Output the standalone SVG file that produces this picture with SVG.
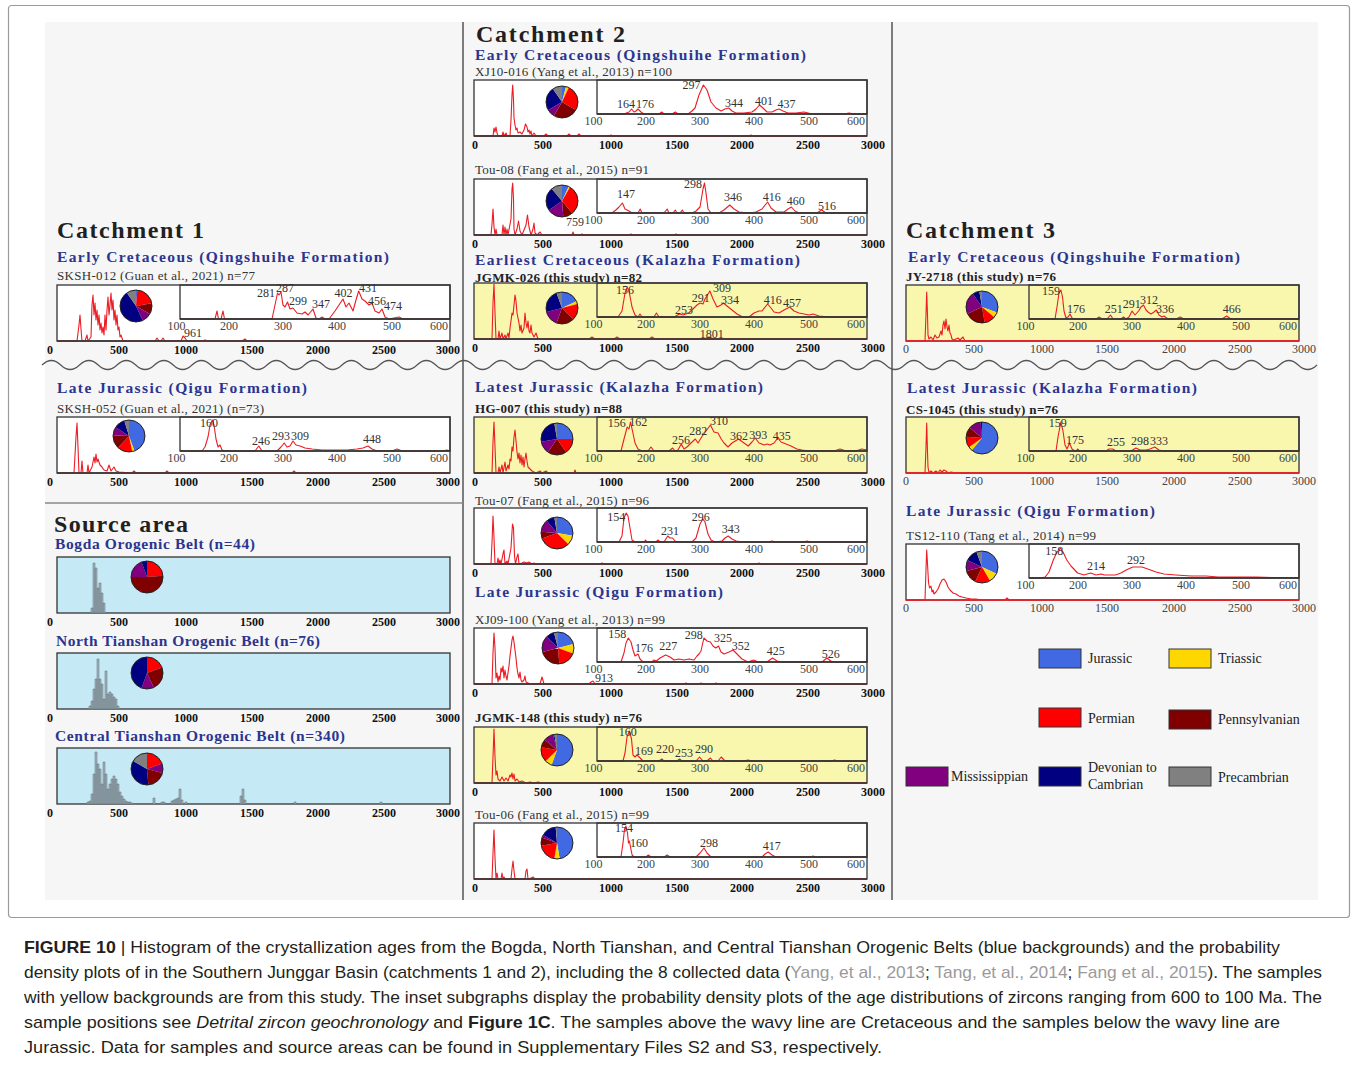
<svg xmlns="http://www.w3.org/2000/svg" width="1356" height="1066" viewBox="0 0 1356 1066">
<style>
.bg{fill:#f6f6f6}
.frame{fill:none;stroke:#9a9a9a;stroke-width:1.2}
.div{stroke:#555;stroke-width:1.5;fill:none}
.box{fill:#fff;stroke:#333;stroke-width:1.3}
.ybox{fill:#f9f6ae;stroke:#333;stroke-width:1.3}
.bbox{fill:#c5e9f5;stroke:#333;stroke-width:1.3}
.ins{fill:none;stroke:#333;stroke-width:1.3}
.axl{fill:none;stroke:#333;stroke-width:1.3}
.redax{fill:none;stroke:#ec1c24;stroke-width:1.4}
.pdp{fill:none;stroke:#ec1c24;stroke-width:1.1;stroke-linejoin:round}
.hist{fill:#a3b3ba;stroke:#5f6e74;stroke-width:0.5}
text{font-family:"Liberation Serif","Times New Roman",serif}
.axb{font-size:12px;font-weight:bold;fill:#111;text-anchor:middle}
.axr{font-size:12px;fill:#444;text-anchor:middle}
.pk{font-size:12px;fill:#333;text-anchor:middle}
.ttl{font-size:24px;font-weight:bold;fill:#231f20}
.sub{font-size:15.5px;font-weight:bold;fill:#2b3590}
.smp{font-size:13px;fill:#333}
.smpb{font-size:13px;font-weight:bold;fill:#222}
.leg{font-size:14px;fill:#222}
.lbox{stroke:#333;stroke-width:1}
.sl{fill:none;stroke-width:16}
.po{fill:none;stroke:#222;stroke-width:1}
.J{stroke:#4169e1}.T{stroke:#ffd700}.P{stroke:#ff0000}.Pe{stroke:#800000}.M{stroke:#800080}.D{stroke:#000080}.Pc{stroke:#808080}
.cap{font-family:"Liberation Sans",Arial,sans-serif;font-size:17px;fill:#231f20}
.cit{fill:#9a9a9a}
</style>
<defs>
<g id="axm" class="axb"><text x="-7" y="69">0</text><text x="62" y="69">500</text><text x="129" y="69">1000</text><text x="195" y="69">1500</text><text x="261" y="69">2000</text><text x="327" y="69">2500</text><text x="391" y="69">3000</text></g>
<g id="axm2" class="axb"><text x="1" y="69">0</text><text x="69" y="69">500</text><text x="137" y="69">1000</text><text x="203" y="69">1500</text><text x="268" y="69">2000</text><text x="334" y="69">2500</text><text x="399" y="69">3000</text></g>
<g id="axr" class="axr"><text x="0" y="68">0</text><text x="68" y="68">500</text><text x="136" y="68">1000</text><text x="201" y="68">1500</text><text x="268" y="68">2000</text><text x="334" y="68">2500</text><text x="398" y="68">3000</text></g>
<g id="axi" class="axr"><text x="119.5" y="45">100</text><text x="172" y="45">200</text><text x="226" y="45">300</text><text x="280" y="45">400</text><text x="335" y="45">500</text><text x="382" y="45">600</text></g>
</defs>

<rect class="frame" x="8.5" y="5.5" width="1341" height="912" rx="3"/>
<rect class="bg" x="45" y="22" width="1273" height="878"/>

<g id="separators">
<path class="div" d="M463,22V900M892,22V900"/>
<path class="div" style="stroke:#888" d="M45,503H463"/>
<path class="div" style="stroke-width:1.2" d="M42,365q9.375,-9 18.75,0 t18.75,0 t18.75,0 t18.75,0 t18.75,0 t18.75,0 t18.75,0 t18.75,0 t18.75,0 t18.75,0 t18.75,0 t18.75,0 t18.75,0 t18.75,0 t18.75,0 t18.75,0 t18.75,0 t18.75,0 t18.75,0 t18.75,0 t18.75,0 t18.75,0 t18.75,0 t18.75,0 t18.75,0 t18.75,0 t18.75,0 t18.75,0 t18.75,0 t18.75,0 t18.75,0 t18.75,0 t18.75,0 t18.75,0 t18.75,0 t18.75,0 t18.75,0 t18.75,0 t18.75,0 t18.75,0 t18.75,0 t18.75,0 t18.75,0 t18.75,0 t18.75,0 t18.75,0 t18.75,0 t18.75,0 t18.75,0 t18.75,0 t18.75,0 t18.75,0 t18.75,0 t18.75,0 t18.75,0 t18.75,0 t18.75,0 t18.75,0 t18.75,0 t18.75,0 t18.75,0 t18.75,0 t18.75,0 t18.75,0 t18.75,0 t18.75,0 t18.75,0 t18.75,0"/>
</g>

<g id="headings">
<text class="ttl" x="57" y="238" textLength="147">Catchment 1</text>
<text class="sub" x="57" y="262" textLength="332">Early Cretaceous (Qingshuihe Formation)</text>
<text class="smp" x="57" y="280" textLength="198">SKSH-012 (Guan et al., 2021) n=77</text>
<text class="sub" x="57" y="393" textLength="250">Late Jurassic (Qigu Formation)</text>
<text class="smp" x="57" y="413" textLength="207">SKSH-052 (Guan et al., 2021) (n=73)</text>
<text class="ttl" x="54" y="532" textLength="134">Source area</text>
<text class="sub" x="55" y="549" textLength="200">Bogda Orogenic Belt (n=44)</text>
<text class="sub" x="56" y="646" textLength="264">North Tianshan Orogenic Belt (n=76)</text>
<text class="sub" x="55" y="741" textLength="290">Central Tianshan Orogenic Belt (n=340)</text>

<text class="ttl" x="476" y="42" textLength="149">Catchment 2</text>
<text class="sub" x="475" y="60" textLength="331">Early Cretaceous (Qingshuihe Formation)</text>
<text class="smp" x="475" y="76" textLength="197">XJ10-016 (Yang et al., 2013) n=100</text>
<text class="smp" x="475" y="174" textLength="174">Tou-08 (Fang et al., 2015) n=91</text>
<text class="sub" x="475" y="265" textLength="325">Earliest Cretaceous (Kalazha Formation)</text>
<text class="smpb" x="475" y="282" textLength="167">JGMK-026 (this study) n=82</text>
<text class="sub" x="475" y="392" textLength="288">Latest Jurassic (Kalazha Formation)</text>
<text class="smpb" x="475" y="413" textLength="147">HG-007 (this study) n=88</text>
<text class="smp" x="475" y="505" textLength="174">Tou-07 (Fang et al., 2015) n=96</text>
<text class="sub" x="475" y="597" textLength="248">Late Jurassic (Qigu Formation)</text>
<text class="smp" x="475" y="624" textLength="190">XJ09-100 (Yang et al., 2013) n=99</text>
<text class="smpb" x="475" y="722" textLength="167">JGMK-148 (this study) n=76</text>
<text class="smp" x="475" y="819" textLength="174">Tou-06 (Fang et al., 2015) n=99</text>

<text class="ttl" x="906" y="238" textLength="149">Catchment 3</text>
<text class="sub" x="908" y="262" textLength="332">Early Cretaceous (Qingshuihe Formation)</text>
<text class="smpb" x="906" y="281" textLength="150">JY-2718 (this study) n=76</text>
<text class="sub" x="907" y="393" textLength="290">Latest Jurassic (Kalazha Formation)</text>
<text class="smpb" x="906" y="414" textLength="152">CS-1045 (this study) n=76</text>
<text class="sub" x="906" y="516" textLength="249">Late Jurassic (Qigu Formation)</text>
<text class="smp" x="906" y="540" textLength="190">TS12-110 (Tang et al., 2014) n=99</text>
</g>

<!-- Catchment 1 -->
<g id="c1-sksh012" transform="translate(57,285)">
<rect class="box" width="393" height="56"/>
<path class="pdp" d="M0,56 L20,56 L22,40 L23,30 L24,44 L25,56 L28,56 L30,50 L31,56 L34,52 L35,20 L36,10 L37,30 L38,18 L39,35 L40,25 L41,40 L42,30 L43,45 L44,38 L45,48 L46,42 L47,50 L48,30 L49,45 L50,25 L51,12 L52,30 L53,20 L54,8 L55,25 L56,15 L57,35 L58,25 L59,40 L60,30 L61,45 L62,42 L63,52 L64,50 L66,56 L98,56 L100,53 L102,56 L104,56 L106,53 L108,56 L124,56 L126,51 L128,53 L130,56 L145,56 L148,55 L152,56 L185,56 L188,54 L190,56 L393,56"/>
<path class="pdp" d="M123,34 L158,34 L160,26 L161.5,34 L164,34 L166,26 L167.5,34 L215,34 L218,20 L220.5,8 L222,10 L224,7 L226,20 L228,22 L230.5,17 L233,24 L236,23 L240,28 L245,29 L248,27 L251,30 L256,24 L259,33 L262,34 L265,32 L268,34 L272,34 L275,30 L278,26 L282,20 L286,14 L289,22 L292,18 L296,26 L299,15 L301.7,6 L305,14 L308,16 L312,20 L315,18 L318,26 L322,28 L325,24 L328,32 L332,34 L337,33 L342,32 L346,34 L393,34"/>
<rect class="ins" x="123" width="270" height="34"/>
<path class="axl" d="M0,56H393M123,34H393"/>
<use href="#axm"/><use href="#axi"/>
<g class="pk"><text x="209" y="12">281</text><text x="228" y="7">287</text><text x="241" y="20">299</text><text x="264" y="23">347</text><text x="286.5" y="12">402</text><text x="311" y="7">431</text><text x="320" y="20">456</text><text x="336" y="25">474</text><text x="136" y="52">961</text></g>
<g transform="translate(79,21) rotate(-90)">
<circle class="sl J" r="8" pathLength="360" stroke-dasharray="5 360"/>
<circle class="sl P" r="8" pathLength="360" stroke-dasharray="75 360" stroke-dashoffset="-5"/>
<circle class="sl Pe" r="8" pathLength="360" stroke-dasharray="40 360" stroke-dashoffset="-80"/>
<circle class="sl M" r="8" pathLength="360" stroke-dasharray="35 360" stroke-dashoffset="-120"/>
<circle class="sl D" r="8" pathLength="360" stroke-dasharray="170 360" stroke-dashoffset="-155"/>
<circle class="sl Pc" r="8" pathLength="360" stroke-dasharray="35 360" stroke-dashoffset="-325"/>
<circle class="po" r="16"/></g>
</g>

<g id="c1-sksh052" transform="translate(57,417)">
<rect class="box" width="393" height="56"/>
<path class="pdp" d="M0,56 L17,56 L19,20 L20,6 L21,30 L22,56 L24,56 L25,44 L26,56 L30,56 L31,48 L32,56 L35,50 L37,40 L38,46 L39,37 L40,45 L41,42 L43,48 L45,50 L47,53 L50,54 L52,48 L54,54 L57,50 L59,54 L62,55 L75,56 L77,54 L79,56 L108,56 L110,54 L112,56 L235,56 L237,54 L239,56 L393,56"/>
<path class="pdp" d="M123,34 L145,34 L148,30 L151,20 L153,8 L155.4,3 L157,8 L159,22 L161,30 L163,28 L165,33 L168,34 L198,34 L201.8,29 L205,34 L220,34 L224,30 L227.2,26 L230,30 L233,29 L236,24 L239,28 L243,29 L248,31 L255,32 L265,33 L275,33 L290,33 L300,32 L306,31 L311,29 L315,32 L320,34 L335,34 L340,32 L345,34 L385,34 L390,33 L393,34"/>
<rect class="ins" x="123" width="270" height="34"/>
<path class="axl" d="M0,56H393M123,34H393"/>
<use href="#axm"/><use href="#axi"/>
<g class="pk"><text x="152" y="10">160</text><text x="204" y="28">246</text><text x="224" y="23">293</text><text x="243" y="23">309</text><text x="315" y="26">448</text></g>
<g transform="translate(72,19) rotate(-90)">
<circle class="sl J" r="8" pathLength="360" stroke-dasharray="160 360"/>
<circle class="sl T" r="8" pathLength="360" stroke-dasharray="8 360" stroke-dashoffset="-160"/>
<circle class="sl P" r="8" pathLength="360" stroke-dasharray="55 360" stroke-dashoffset="-168"/>
<circle class="sl Pe" r="8" pathLength="360" stroke-dasharray="50 360" stroke-dashoffset="-223"/>
<circle class="sl M" r="8" pathLength="360" stroke-dasharray="30 360" stroke-dashoffset="-273"/>
<circle class="sl D" r="8" pathLength="360" stroke-dasharray="40 360" stroke-dashoffset="-303"/>
<circle class="sl Pc" r="8" pathLength="360" stroke-dasharray="17 360" stroke-dashoffset="-343"/>
<circle class="po" r="16"/></g>
</g>

<!-- Source area -->
<g id="src-bogda" transform="translate(57,557)">
<rect class="bbox" width="393" height="56"/>
<path class="hist" d="M34,56h2v-5h-2zM36,56h2v-50h-2zM38,56h2v-45h-2zM40,56h2v-25h-2zM42,56h2v-30h-2zM44,56h2v-20h-2zM46,56h2v-10h-2z"/>
<use href="#axm"/>
<g transform="translate(90,20) rotate(-90)">
<circle class="sl P" r="8" pathLength="360" stroke-dasharray="85 360"/>
<circle class="sl Pe" r="8" pathLength="360" stroke-dasharray="185 360" stroke-dashoffset="-85"/>
<circle class="sl M" r="8" pathLength="360" stroke-dasharray="70 360" stroke-dashoffset="-270"/>
<circle class="sl D" r="8" pathLength="360" stroke-dasharray="20 360" stroke-dashoffset="-340"/>
<circle class="po" r="16"/></g>
</g>

<g id="src-northtianshan" transform="translate(57,653)">
<rect class="bbox" width="393" height="56"/>
<path class="hist" d="M32,56h2v-3h-2zM34,56h2v-8h-2zM36,56h2v-20h-2zM38,56h2v-30h-2zM40,56h2v-50h-2zM42,56h2v-30h-2zM44,56h2v-25h-2zM46,56h2v-10h-2zM48,56h2v-38h-2zM50,56h2v-15h-2zM52,56h2v-17h-2zM54,56h2v-15h-2zM56,56h2v-12h-2zM58,56h2v-10h-2zM60,56h2v-3h-2z"/>
<use href="#axm"/>
<g transform="translate(90,20) rotate(-90)">
<circle class="sl P" r="8" pathLength="360" stroke-dasharray="70 360"/>
<circle class="sl Pe" r="8" pathLength="360" stroke-dasharray="85 360" stroke-dashoffset="-70"/>
<circle class="sl M" r="8" pathLength="360" stroke-dasharray="45 360" stroke-dashoffset="-155"/>
<circle class="sl D" r="8" pathLength="360" stroke-dasharray="160 360" stroke-dashoffset="-200"/>
<circle class="po" r="16"/></g>
</g>

<g id="src-centraltianshan" transform="translate(57,748)">
<rect class="bbox" width="393" height="56"/>
<path class="hist" d="M30,56h2v-2h-2zM32,56h2v-3h-2zM34,56h2v-10h-2zM36,56h2v-30h-2zM38,56h2v-52h-2zM40,56h2v-40h-2zM42,56h2v-35h-2zM44,56h2v-20h-2zM46,56h2v-42h-2zM48,56h2v-30h-2zM50,56h2v-15h-2zM52,56h2v-20h-2zM54,56h2v-25h-2zM56,56h2v-28h-2zM58,56h2v-25h-2zM60,56h2v-20h-2zM62,56h2v-12h-2zM64,56h2v-8h-2zM66,56h2v-5h-2zM68,56h2v-3h-2zM70,56h2v-2h-2zM72,56h2v-2h-2zM74,56h2v-1h-2zM96,56h2v-6h-2zM104,56h2v-2h-2zM106,56h2v-2h-2zM114,56h2v-3h-2zM116,56h2v-4h-2zM118,56h2v-5h-2zM120,56h2v-6h-2zM122,56h2v-15h-2zM124,56h2v-4h-2zM128,56h2v-2h-2zM183,56h2v-8h-2zM185,56h2v-15h-2zM187,56h2v-4h-2zM237,56h2v-2h-2zM323,56h2v-2h-2z"/>
<use href="#axm"/>
<g transform="translate(90,21) rotate(-90)">
<circle class="sl P" r="8" pathLength="360" stroke-dasharray="70 360"/>
<circle class="sl M" r="8" pathLength="360" stroke-dasharray="35 360" stroke-dashoffset="-70"/>
<circle class="sl Pe" r="8" pathLength="360" stroke-dasharray="70 360" stroke-dashoffset="-105"/>
<circle class="sl D" r="8" pathLength="360" stroke-dasharray="125 360" stroke-dashoffset="-175"/>
<circle class="sl Pc" r="8" pathLength="360" stroke-dasharray="60 360" stroke-dashoffset="-300"/>
<circle class="po" r="16"/></g>
</g>

<!-- Catchment 2 -->
<g id="c2-xj10016" transform="translate(474,80)">
<rect class="box" width="393" height="56"/>
<path class="pdp" d="M0,56 L19,56 L20,48 L21,52 L22,47 L23,53 L24,56 L28,56 L29,52 L30,56 L32,53 L33,56 L36,56 L37,40 L38,15 L38.7,5 L39.5,20 L40,38 L41,45 L42,50 L43,48 L44,53 L46,52 L48,54 L50,50 L51.5,44 L53,47 L54,52 L55,50 L56,54 L57,51 L58,56 L60,53 L62,56 L70,56 L72,54 L74,56 L93,56 L95,54 L97,56 L103,56 L105,54 L107,56 L135,56 L137,55 L139,56 L275,56 L277,55 L279,56 L393,56"/>
<path class="pdp" d="M123,34 L150,34 L155,32 L157.6,29 L160,32 L162,31 L164,29 L167,32 L170,34 L185,34 L187.8,32 L190,34 L198,34 L201.3,32 L204,34 L214,34 L218,31 L221,28 L225,15 L229.4,5 L233,10 L237,22 L242,28 L247,31 L251,29 L254.8,28 L258,31 L262,33 L270,33 L278,32 L282,29 L285.5,25 L289,28 L293,32 L298,32 L302,30 L305,29 L309,31 L314,33 L322,33 L330,32 L338,34 L370,34 L375,33 L380,34 L393,34"/>
<rect class="ins" x="123" width="270" height="34"/>
<path class="axl" d="M0,56H393M123,34H393"/>
<use href="#axm2"/><use href="#axi"/>
<g class="pk"><text x="152" y="28">164</text><text x="171" y="28">176</text><text x="217.5" y="9">297</text><text x="260" y="27">344</text><text x="290" y="25">401</text><text x="312.5" y="28">437</text></g>
<g transform="translate(88,22) rotate(-90)">
<circle class="sl J" r="8" pathLength="360" stroke-dasharray="15 360"/>
<circle class="sl T" r="8" pathLength="360" stroke-dasharray="10 360" stroke-dashoffset="-15"/>
<circle class="sl P" r="8" pathLength="360" stroke-dasharray="95 360" stroke-dashoffset="-25"/>
<circle class="sl Pe" r="8" pathLength="360" stroke-dasharray="90 360" stroke-dashoffset="-120"/>
<circle class="sl M" r="8" pathLength="360" stroke-dasharray="30 360" stroke-dashoffset="-210"/>
<circle class="sl D" r="8" pathLength="360" stroke-dasharray="85 360" stroke-dashoffset="-240"/>
<circle class="sl Pc" r="8" pathLength="360" stroke-dasharray="35 360" stroke-dashoffset="-325"/>
<circle class="po" r="16"/></g>
</g>

<g id="c2-tou08" transform="translate(474,179)">
<rect class="box" width="393" height="56"/>
<path class="pdp" d="M0,56 L17,56 L18,45 L19,30 L20,48 L21,56 L22,50 L23,56 L28,56 L29,46 L30,56 L31,48 L32,56 L33,50 L34,56 L37,40 L38,10 L38.7,4 L39.5,20 L40,50 L41,56 L43,50 L44.5,42 L46,52 L48,56 L52,46 L53.5,36 L55,48 L57,56 L59,50 L60,44 L61,54 L63,56 L66,53 L68,56 L98,56 L99,53 L100,56 L106,56 L108,55 L110,56 L155,56 L157,55 L159,56 L200,56 L202,55 L204,56 L393,56"/>
<path class="pdp" d="M123,34 L138,34 L141.9,31 L145,28 L148.4,24 L151,30 L155,32 L158,34 L164,34 L166.2,30 L168,34 L190,34 L193.2,30 L195,34 L199,34 L201.3,31 L203,34 L206,34 L208.3,31 L210,34 L218,34 L222,32 L226,28 L229,10 L230.5,4 L232,14 L234,30 L237,34 L245,34 L250,31 L255.8,26 L260,30 L265,33 L275,34 L282,33 L288,30 L293.6,23 L297,29 L302,33 L310,33 L314,30 L317.4,28 L321,32 L325,34 L343,34 L347.6,31 L352,34 L393,34"/>
<rect class="ins" x="123" width="270" height="34"/>
<path class="axl" d="M0,56H393M123,34H393"/>
<use href="#axm2"/><use href="#axi"/>
<g class="pk"><text x="152" y="19">147</text><text x="219" y="9">298</text><text x="259" y="22">346</text><text x="297.7" y="22">416</text><text x="321.7" y="26">460</text><text x="353" y="31">516</text><text x="101" y="47">759</text></g>
<g transform="translate(88,22) rotate(-90)">
<circle class="sl J" r="8" pathLength="360" stroke-dasharray="25 360"/>
<circle class="sl T" r="8" pathLength="360" stroke-dasharray="5 360" stroke-dashoffset="-25"/>
<circle class="sl P" r="8" pathLength="360" stroke-dasharray="110 360" stroke-dashoffset="-30"/>
<circle class="sl Pe" r="8" pathLength="360" stroke-dasharray="35 360" stroke-dashoffset="-140"/>
<circle class="sl M" r="8" pathLength="360" stroke-dasharray="60 360" stroke-dashoffset="-175"/>
<circle class="sl D" r="8" pathLength="360" stroke-dasharray="85 360" stroke-dashoffset="-235"/>
<circle class="sl Pc" r="8" pathLength="360" stroke-dasharray="40 360" stroke-dashoffset="-320"/>
<circle class="po" r="16"/></g>
</g>

<g id="c2-jgmk026" transform="translate(474,283)">
<rect class="ybox" width="393" height="56"/>
<path class="pdp" d="M0,56 L18,56 L19,20 L20,1 L21,30 L22,56 L24,56 L25,48 L26,56 L28,50 L29,56 L31,52 L32,56 L34,50 L35,55 L36,45 L37,38 L38,30 L39,32 L40,22 L41,12 L42,18 L43,30 L44,35 L45,40 L46,48 L47,42 L48,50 L50,45 L51,30 L52,40 L53,45 L54,38 L55,48 L56,50 L57,42 L58,50 L60,54 L62,50 L64,56 L115,56 L118,54 L121,56 L140,56 L143,54 L146,56 L175,56 L178,54 L181,56 L230,56 L235,54 L240,56 L393,56"/>
<path class="pdp" d="M123,34 L144,34 L148,28 L151,10 L153.2,4 L155,8 L158,24 L161,32 L164,34 L166,31 L168,34 L180,34 L182.4,30 L185,34 L200,34 L205.6,31 L209,32 L214.8,30 L219,26 L223,22 L226.1,20 L229,21 L231,16 L235.9,8 L239,16 L243,24 L247,22 L249.4,20 L253,23 L258,27 L263,31 L268.8,34 L275,34 L280,30 L285,28 L288,28 L293.6,21 L297,25 L300,29 L305,30 L310,27 L315.8,24 L320,28 L325,30 L330,31 L335,32 L339,31 L345,33 L355,34 L393,34"/>
<rect class="ins" x="123" width="270" height="34"/>
<path class="axl" d="M0,56H393M123,34H393"/>
<use href="#axm2"/><use href="#axi"/>
<g class="pk"><text x="151" y="11">156</text><text x="210" y="31">253</text><text x="226.7" y="19">291</text><text x="248" y="9">309</text><text x="256" y="21">334</text><text x="298.7" y="21">416</text><text x="318" y="24">457</text><text x="237.7" y="55">1801</text></g>
<g transform="translate(88,25) rotate(-90)">
<circle class="sl J" r="8" pathLength="360" stroke-dasharray="65 360"/>
<circle class="sl T" r="8" pathLength="360" stroke-dasharray="10 360" stroke-dashoffset="-65"/>
<circle class="sl P" r="8" pathLength="360" stroke-dasharray="60 360" stroke-dashoffset="-75"/>
<circle class="sl Pe" r="8" pathLength="360" stroke-dasharray="65 360" stroke-dashoffset="-135"/>
<circle class="sl M" r="8" pathLength="360" stroke-dasharray="55 360" stroke-dashoffset="-200"/>
<circle class="sl D" r="8" pathLength="360" stroke-dasharray="85 360" stroke-dashoffset="-255"/>
<circle class="sl Pc" r="8" pathLength="360" stroke-dasharray="20 360" stroke-dashoffset="-340"/>
<circle class="po" r="16"/></g>
</g>

<g id="c2-hg007" transform="translate(474,417)">
<rect class="ybox" width="393" height="56"/>
<path class="pdp" d="M0,56 L18,56 L19,25 L20,5 L21,30 L22,56 L24,56 L25,50 L26,56 L28,48 L29,56 L31,45 L32,54 L34,48 L35,52 L36,42 L37,44 L38,30 L39,34 L40,20 L41,13 L42,24 L43,35 L44,42 L45,36 L46,46 L47,38 L48,48 L49,40 L50,50 L51,42 L52,36 L53,44 L54,50 L56,52 L58,54 L62,56 L66,54 L68,56 L72,54 L74,56 L100,56 L101,53 L102,56 L393,56"/>
<path class="pdp" d="M123,34 L147,34 L150,22 L153.2,10 L155,12 L156.5,5 L158.5,14 L161,26 L164,32 L168,34 L174,34 L177,30 L180,34 L195,34 L198.6,31 L201,34 L204,33 L207.2,27 L210,32 L213,30 L217,26 L221.3,22 L224,26 L228.3,19 L232,14 L236.4,8 L240,15 L244,16 L247.2,22 L250,26 L254,30 L258,26 L264.5,22 L270,26 L274.2,29 L278,25 L281.2,21 L285,26 L290.4,28 L293,27 L296,28 L300,26 L303.9,21 L307,25 L312,27 L317,29 L322.8,32 L328,33 L335,34 L360,34 L366,32 L372,34 L382,34 L387.6,32 L393,33"/>
<rect class="ins" x="123" width="270" height="34"/>
<path class="axl" d="M0,56H393M123,34H393"/>
<use href="#axm2"/><use href="#axi"/>
<g class="pk"><text x="142.7" y="10">156</text><text x="164.3" y="9">162</text><text x="207" y="27">256</text><text x="224.3" y="18">282</text><text x="245" y="8">310</text><text x="265" y="23">362</text><text x="284.3" y="21.5">393</text><text x="307.7" y="23">435</text></g>
<g transform="translate(83,22) rotate(-90)">
<circle class="sl J" r="8" pathLength="360" stroke-dasharray="90 360"/>
<circle class="sl P" r="8" pathLength="360" stroke-dasharray="55 360" stroke-dashoffset="-90"/>
<circle class="sl Pe" r="8" pathLength="360" stroke-dasharray="70 360" stroke-dashoffset="-145"/>
<circle class="sl M" r="8" pathLength="360" stroke-dasharray="45 360" stroke-dashoffset="-215"/>
<circle class="sl D" r="8" pathLength="360" stroke-dasharray="90 360" stroke-dashoffset="-260"/>
<circle class="sl Pc" r="8" pathLength="360" stroke-dasharray="10 360" stroke-dashoffset="-350"/>
<circle class="po" r="16"/></g>
</g>

<g id="c2-tou07" transform="translate(474,508)">
<rect class="box" width="393" height="56"/>
<path class="pdp" d="M0,56 L17,56 L18.2,30 L19,8 L20,30 L21,56 L23,56 L24,50 L25,56 L26,52 L27,56 L29,46 L30,42 L31,56 L33,53 L34,56 L37,40 L38.5,16 L39.5,20 L40.5,48 L41.5,56 L43,49 L44,46 L45,56 L48,55 L50,54 L53,55 L55,54 L58,56 L60,55 L62,56 L126,56 L128,55 L130,56 L283,56 L285,55 L287,56 L393,56"/>
<path class="pdp" d="M123,34 L145,34 L148,28 L150,10 L152.2,5 L154,8 L156,20 L158,32 L161,34 L170,34 L171.6,32 L173,34 L182,34 L184,32 L186,34 L190,34 L193.7,28 L196,30 L198.6,30 L201,33 L204,34 L218,34 L222,30 L226,16 L228.8,11 L231,14 L234,26 L237,32 L241,34 L248,33 L251,30 L254.2,28 L258,31 L262,33 L268,34 L295,34 L298,33 L301,34 L330,34 L333,33 L336,34 L393,34"/>
<rect class="ins" x="123" width="270" height="34"/>
<path class="axl" d="M0,56H393M123,34H393"/>
<use href="#axm2"/><use href="#axi"/>
<g class="pk"><text x="142.3" y="12.7">154</text><text x="196" y="27">231</text><text x="226.7" y="12.7">296</text><text x="256.7" y="25">343</text></g>
<g transform="translate(83,25) rotate(-90)">
<circle class="sl J" r="8" pathLength="360" stroke-dasharray="100 360"/>
<circle class="sl T" r="8" pathLength="360" stroke-dasharray="35 360" stroke-dashoffset="-100"/>
<circle class="sl P" r="8" pathLength="360" stroke-dasharray="115 360" stroke-dashoffset="-135"/>
<circle class="sl Pe" r="8" pathLength="360" stroke-dasharray="25 360" stroke-dashoffset="-250"/>
<circle class="sl M" r="8" pathLength="360" stroke-dasharray="45 360" stroke-dashoffset="-275"/>
<circle class="sl D" r="8" pathLength="360" stroke-dasharray="30 360" stroke-dashoffset="-320"/>
<circle class="sl Pc" r="8" pathLength="360" stroke-dasharray="10 360" stroke-dashoffset="-350"/>
<circle class="po" r="16"/></g>
</g>

<g id="c2-xj09100" transform="translate(474,628)">
<rect class="box" width="393" height="56"/>
<path class="pdp" d="M0,56 L18,56 L19,25 L20,5 L21,20 L22,50 L23,45 L24,54 L25,48 L26,52 L27,40 L28,44 L29,38 L30,50 L31,42 L32,48 L33,52 L34,45 L35,38 L36,28 L37,20 L38,12 L39,8 L40,14 L41,22 L42,30 L43,40 L44,46 L45,50 L46,44 L47,52 L48,54 L50,52 L51,48 L52,54 L54,55 L56,56 L66,56 L68,49 L70,56 L115,56 L117,54 L119,53 L121,56 L210,56 L212,55 L214,56 L225,56 L227,55 L229,56 L240,56 L242,55 L244,56 L393,56"/>
<path class="pdp" d="M123,34 L147,34 L150,25 L152,15 L154.3,10 L157,14 L159,22 L161,28 L164,26 L166,31 L169,34 L178,34 L180,32 L182.4,33 L186,30 L191.6,27 L196,29 L200,32 L205,31 L210,32 L215,31 L220,32 L223,28 L225,26 L227,23 L229.9,10 L233,13 L236.4,14 L239,18 L241.8,20 L244.5,18 L247,24 L250,26 L255,24 L259.1,22 L263,26 L268,31 L274,34 L279.6,32 L284,34 L293,34 L298.5,30 L303,33 L308,34 L348,34 L353,30 L358,34 L393,34"/>
<rect class="ins" x="123" width="270" height="34"/>
<path class="axl" d="M0,56H393M123,34H393"/>
<use href="#axm2"/><use href="#axi"/>
<g class="pk"><text x="143.3" y="10">158</text><text x="170" y="24">176</text><text x="194.3" y="22">227</text><text x="219.7" y="10.7">298</text><text x="249" y="13.7">325</text><text x="266.7" y="22">352</text><text x="301.7" y="27">425</text><text x="356.7" y="30">526</text><text x="130" y="53.7">913</text></g>
<g transform="translate(84,20) rotate(-90)">
<circle class="sl J" r="8" pathLength="360" stroke-dasharray="75 360"/>
<circle class="sl T" r="8" pathLength="360" stroke-dasharray="35 360" stroke-dashoffset="-75"/>
<circle class="sl P" r="8" pathLength="360" stroke-dasharray="65 360" stroke-dashoffset="-110"/>
<circle class="sl Pe" r="8" pathLength="360" stroke-dasharray="80 360" stroke-dashoffset="-175"/>
<circle class="sl M" r="8" pathLength="360" stroke-dasharray="60 360" stroke-dashoffset="-255"/>
<circle class="sl D" r="8" pathLength="360" stroke-dasharray="30 360" stroke-dashoffset="-315"/>
<circle class="sl Pc" r="8" pathLength="360" stroke-dasharray="15 360" stroke-dashoffset="-345"/>
<circle class="po" r="16"/></g>
</g>

<g id="c2-jgmk148" transform="translate(474,727)">
<rect class="ybox" width="393" height="56"/>
<path class="pdp" d="M0,56 L18,56 L19,30 L20,2 L21,30 L22,48 L23,44 L24,52 L26,54 L28,50 L30,54 L32,51 L34,54 L36,48 L37,50 L38,46 L39,52 L40,47 L41,54 L43,52 L45,55 L48,54 L52,56 L56,55 L60,56 L64,55 L68,56 L393,56"/>
<path class="pdp" d="M123,34 L149,34 L151,26 L153,10 L155.4,4 L157.5,12 L159,28 L161,30 L163,28 L166.2,31 L169,34 L185,34 L187.8,32 L190,34 L203,34 L205.6,32 L208,34 L222,34 L225.6,30 L229,34 L233,34 L236.4,31 L239,34 L244,34 L247.2,30 L251,34 L270,34 L274,33 L278,34 L357,34 L360.6,33 L364,34 L393,34"/>
<rect class="ins" x="123" width="270" height="34"/>
<path class="axl" d="M0,56H393M123,34H393"/>
<use href="#axm2"/><use href="#axi"/>
<g class="pk"><text x="153.7" y="9">160</text><text x="170" y="28">169</text><text x="191" y="26">220</text><text x="210" y="29.7">253</text><text x="230" y="26">290</text></g>
<g transform="translate(83,23) rotate(-90)">
<circle class="sl J" r="8" pathLength="360" stroke-dasharray="200 360"/>
<circle class="sl T" r="8" pathLength="360" stroke-dasharray="25 360" stroke-dashoffset="-200"/>
<circle class="sl P" r="8" pathLength="360" stroke-dasharray="55 360" stroke-dashoffset="-225"/>
<circle class="sl Pe" r="8" pathLength="360" stroke-dasharray="30 360" stroke-dashoffset="-280"/>
<circle class="sl M" r="8" pathLength="360" stroke-dasharray="35 360" stroke-dashoffset="-310"/>
<circle class="sl D" r="8" pathLength="360" stroke-dasharray="5 360" stroke-dashoffset="-345"/>
<circle class="sl Pc" r="8" pathLength="360" stroke-dasharray="10 360" stroke-dashoffset="-350"/>
<circle class="po" r="16"/></g>
</g>

<g id="c2-tou06" transform="translate(474,823)">
<rect class="box" width="393" height="56"/>
<path class="pdp" d="M0,56 L18,56 L19,30 L20,7 L21,35 L22,56 L23,50 L24,56 L27,56 L28,50 L29,56 L30,54 L31,56 L37,56 L38,46 L39,38 L40,48 L41,56 L51,56 L52,48 L53,46 L54,56 L57,55 L59,54 L61,56 L393,56"/>
<path class="pdp" d="M123,34 L147,34 L149,20 L150.5,6 L152,3 L153.5,10 L154.5,20 L155.4,18 L156.5,24 L158.1,32 L160,34 L172,34 L174.3,32 L177,34 L190,34 L193.2,32 L196,34 L222,34 L226,30 L230,25 L233,30 L237,34 L288,34 L291,31 L294.2,29 L298,32 L302,34 L336,34 L339,33 L342,34 L393,34"/>
<rect class="ins" x="123" width="270" height="34"/>
<path class="axl" d="M0,56H393M123,34H393"/>
<use href="#axm2"/><use href="#axi"/>
<g class="pk"><text x="150" y="8.7">154</text><text x="165" y="23.7">160</text><text x="235" y="23.7">298</text><text x="297.7" y="27">417</text></g>
<g transform="translate(83,20) rotate(-90)">
<circle class="sl J" r="8" pathLength="360" stroke-dasharray="170 360"/>
<circle class="sl T" r="8" pathLength="360" stroke-dasharray="20 360" stroke-dashoffset="-170"/>
<circle class="sl P" r="8" pathLength="360" stroke-dasharray="70 360" stroke-dashoffset="-190"/>
<circle class="sl Pe" r="8" pathLength="360" stroke-dasharray="30 360" stroke-dashoffset="-260"/>
<circle class="sl M" r="8" pathLength="360" stroke-dasharray="10 360" stroke-dashoffset="-290"/>
<circle class="sl D" r="8" pathLength="360" stroke-dasharray="55 360" stroke-dashoffset="-300"/>
<circle class="sl Pc" r="8" pathLength="360" stroke-dasharray="5 360" stroke-dashoffset="-355"/>
<circle class="po" r="16"/></g>
</g>

<!-- Catchment 3 -->
<g id="c3-jy2718" transform="translate(906,285)">
<rect class="ybox" width="393" height="56"/>
<path class="pdp" d="M0,56 L19,56 L20,30 L20.7,7 L21.5,30 L22,50 L23,54 L25,52 L27,55 L29,50 L31,53 L33,52 L35,46 L36,50 L37,40 L38,36 L39,44 L40,34 L41,42 L42,46 L43,40 L44,48 L45,50 L46,54 L48,55 L52,53 L54,55 L57,52 L59,56 L393,56"/>
<path class="pdp" d="M123,34 L149,34 L151,22 L153,8 L154.9,5 L156.5,12 L158,26 L160,33 L162,32 L164,29 L166,33 L168,34 L190,34 L193.2,32 L196,34 L201,34 L204.5,30 L207,34 L215,34 L217.5,32 L220,34 L223,32 L226.1,26 L229,30 L232.6,26 L235,22 L237.5,20 L240,25 L242,27 L245,29 L248,27 L250.4,25 L253,30 L256,32 L258,31 L262,34 L270,34 L274.2,32 L278,34 L316,34 L320.6,31 L325,34 L393,34"/>
<rect class="ins" x="123" width="270" height="34"/>
<path class="axl" d="M123,34H393"/>
<path class="redax" d="M0,56H393"/>
<use href="#axr"/><use href="#axi"/>
<g class="pk"><text x="145" y="10">159</text><text x="170" y="28">176</text><text x="207.7" y="28">251</text><text x="225.7" y="23">291</text><text x="243" y="19">312</text><text x="259" y="28">336</text><text x="325.7" y="28">466</text></g>
<g transform="translate(76,22) rotate(-90)">
<circle class="sl J" r="8" pathLength="360" stroke-dasharray="110 360"/>
<circle class="sl T" r="8" pathLength="360" stroke-dasharray="20 360" stroke-dashoffset="-110"/>
<circle class="sl P" r="8" pathLength="360" stroke-dasharray="40 360" stroke-dashoffset="-130"/>
<circle class="sl Pe" r="8" pathLength="360" stroke-dasharray="75 360" stroke-dashoffset="-170"/>
<circle class="sl M" r="8" pathLength="360" stroke-dasharray="80 360" stroke-dashoffset="-245"/>
<circle class="sl D" r="8" pathLength="360" stroke-dasharray="25 360" stroke-dashoffset="-325"/>
<circle class="sl Pc" r="8" pathLength="360" stroke-dasharray="10 360" stroke-dashoffset="-350"/>
<circle class="po" r="16"/></g>
</g>

<g id="c3-cs1045" transform="translate(906,417)">
<rect class="ybox" width="393" height="56"/>
<path class="pdp" d="M0,56 L19,56 L20,30 L20.7,6 L21.5,35 L22,50 L23,56 L25,54 L27,56 L30,54 L32,56 L34,53 L36,55 L38,53 L40,54 L42,56 L45,55 L50,56 L393,56"/>
<path class="pdp" d="M123,34 L150,34 L152,20 L154.9,5 L157,14 L159,28 L161,32 L163.5,26 L166,32 L169,34 L170,34 L171.6,32 L173.5,34 L200,34 L203,32 L206.7,32 L210,34 L225,34 L229.9,31 L234,33 L240,33 L244,32 L248.8,30 L253,33 L257,34 L393,34"/>
<rect class="ins" x="123" width="270" height="34"/>
<path class="axl" d="M123,34H393"/>
<path class="redax" d="M0,56H393"/>
<use href="#axr"/><use href="#axi"/>
<g class="pk"><text x="151.7" y="9.7">159</text><text x="169" y="27">175</text><text x="210" y="29">255</text><text x="234" y="28">298</text><text x="253" y="28">333</text></g>
<g transform="translate(76,21) rotate(-90)">
<circle class="sl J" r="8" pathLength="360" stroke-dasharray="220 360"/>
<circle class="sl T" r="8" pathLength="360" stroke-dasharray="15 360" stroke-dashoffset="-220"/>
<circle class="sl P" r="8" pathLength="360" stroke-dasharray="40 360" stroke-dashoffset="-235"/>
<circle class="sl Pe" r="8" pathLength="360" stroke-dasharray="35 360" stroke-dashoffset="-275"/>
<circle class="sl M" r="8" pathLength="360" stroke-dasharray="45 360" stroke-dashoffset="-310"/>
<circle class="sl D" r="8" pathLength="360" stroke-dasharray="5 360" stroke-dashoffset="-355"/>
<circle class="po" r="16"/></g>
</g>

<g id="c3-ts12110" transform="translate(906,544)">
<rect class="box" width="393" height="56"/>
<path class="pdp" d="M0,56 L19,56 L20,25 L20.7,6 L21.5,20 L22.5,38 L23.5,44 L25,42 L26,48 L27,46 L28,50 L30,48 L32,45 L34,40 L36,36 L38,35 L40,38 L42,43 L44,46 L47,49 L50,50 L53,52 L56,53 L60,54 L65,55 L70,55 L75,56 L99,56 L101,54 L103,56 L393,56"/>
<path class="pdp" d="M123,34 L135,34 L139.2,33 L143,28 L147.3,16 L151,8 L154.3,4 L157,8 L160.8,16 L165,22 L171.6,29 L178,31 L184.6,29 L190,31 L195,30 L198.6,31 L205,31 L209.4,31 L215,29 L220.2,26 L226.7,23 L232,23 L236,23 L241.8,25 L250,28 L258,30 L270,31 L285,32 L300,32 L312,33 L330,33 L350,33 L366,33.5 L393,34"/>
<rect class="ins" x="123" width="270" height="34"/>
<path class="axl" d="M123,34H393"/>
<path class="redax" d="M0,56H393"/>
<use href="#axr"/><use href="#axi"/>
<g class="pk"><text x="148.3" y="11">158</text><text x="190" y="26">214</text><text x="230" y="20">292</text></g>
<g transform="translate(76,23) rotate(-90)">
<circle class="sl J" r="8" pathLength="360" stroke-dasharray="115 360"/>
<circle class="sl T" r="8" pathLength="360" stroke-dasharray="35 360" stroke-dashoffset="-115"/>
<circle class="sl P" r="8" pathLength="360" stroke-dasharray="55 360" stroke-dashoffset="-150"/>
<circle class="sl Pe" r="8" pathLength="360" stroke-dasharray="50 360" stroke-dashoffset="-205"/>
<circle class="sl M" r="8" pathLength="360" stroke-dasharray="40 360" stroke-dashoffset="-255"/>
<circle class="sl D" r="8" pathLength="360" stroke-dasharray="45 360" stroke-dashoffset="-295"/>
<circle class="sl Pc" r="8" pathLength="360" stroke-dasharray="20 360" stroke-dashoffset="-340"/>
<circle class="po" r="16"/></g>
</g>

<g id="legend">
<rect class="lbox" x="1039" y="649" width="42" height="19" fill="#4169e1"/><text class="leg" x="1088" y="663">Jurassic</text>
<rect class="lbox" x="1169" y="649" width="42" height="19" fill="#ffd700"/><text class="leg" x="1218" y="663">Triassic</text>
<rect class="lbox" x="1039" y="708" width="42" height="19" fill="#ff0000"/><text class="leg" x="1088" y="723">Permian</text>
<rect class="lbox" x="1169" y="710" width="42" height="19" fill="#800000"/><text class="leg" x="1218" y="724">Pennsylvanian</text>
<rect class="lbox" x="906" y="767" width="42" height="19" fill="#800080"/><text class="leg" x="951" y="781">Mississippian</text>
<rect class="lbox" x="1039" y="767" width="42" height="19" fill="#000080"/><text class="leg" x="1088" y="772">Devonian to</text><text class="leg" x="1088" y="789">Cambrian</text>
<rect class="lbox" x="1169" y="767" width="42" height="19" fill="#808080"/><text class="leg" x="1218" y="782">Precambrian</text>
</g>

<g id="caption" class="cap">
<text class="cap" x="24" y="953" textLength="1256" lengthAdjust="spacingAndGlyphs"><tspan font-weight="bold">FIGURE 10</tspan> | Histogram of the crystallization ages from the Bogda, North Tianshan, and Central Tianshan Orogenic Belts (blue backgrounds) and the probability</text>
<text class="cap" x="24" y="978" textLength="1298" lengthAdjust="spacingAndGlyphs">density plots of in the Southern Junggar Basin (catchments 1 and 2), including the 8 collected data (<tspan class="cit">Yang, et al., 2013</tspan>; <tspan class="cit">Tang, et al., 2014</tspan>; <tspan class="cit">Fang et al., 2015</tspan>). The samples</text>
<text class="cap" x="24" y="1003" textLength="1298" lengthAdjust="spacingAndGlyphs">with yellow backgrounds are from this study. The inset subgraphs display the probability density plots of the age distributions of zircons ranging from 600 to 100 Ma. The</text>
<text class="cap" x="24" y="1028" textLength="1256" lengthAdjust="spacingAndGlyphs">sample positions see <tspan font-style="italic">Detrital zircon geochronology</tspan> and <tspan font-weight="bold">Figure 1C</tspan>. The samples above the wavy line are Cretaceous and the samples below the wavy line are</text>
<text class="cap" x="24" y="1053" textLength="858" lengthAdjust="spacingAndGlyphs">Jurassic. Data for samples and source areas can be found in Supplementary Files S2 and S3, respectively.</text>
</g>
</svg>
